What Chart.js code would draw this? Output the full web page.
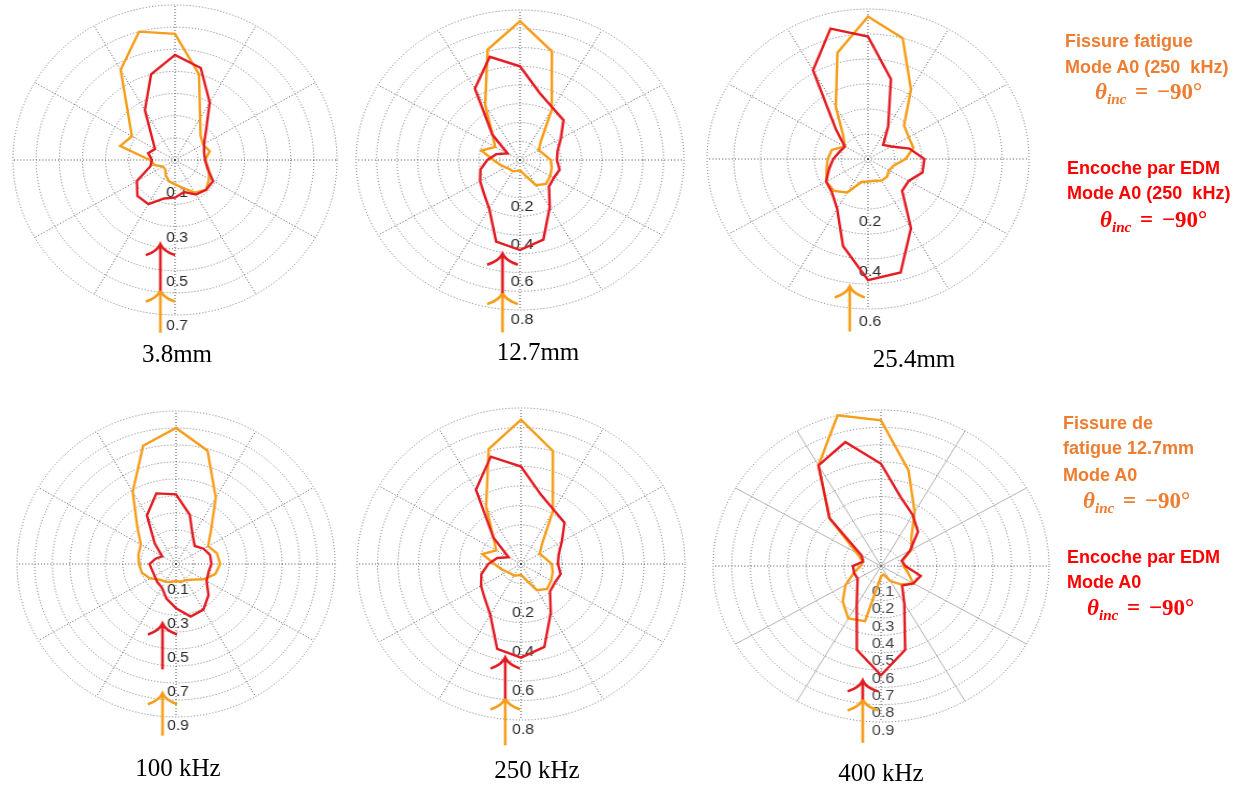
<!DOCTYPE html>
<html>
<head>
<meta charset="utf-8">
<script src="https://cdn.jsdelivr.net/npm/chart.js@4.4.1/dist/chart.umd.min.js"></script>
<style>
  html, body { margin: 0; padding: 0; background: #fff; }
  body { width: 1248px; height: 788px; position: relative; overflow: hidden; }
  canvas.plot { position: absolute; }
  .cap { position: absolute; font-family: "Liberation Serif", "Times New Roman", serif; font-size: 25px; color: #000;
         transform: translate(-50%, -50%); white-space: nowrap; line-height: 1; }
  .leg { position: absolute; font-family: "Liberation Sans", Arial, sans-serif; font-weight: bold; font-size: 18px;
         white-space: nowrap; line-height: 1; transform: translateY(-50%); }
  .th { font-family: "Liberation Serif", "Times New Roman", serif; font-weight: bold; font-size: 23px; word-spacing: 3px; }
  .th sub { font-size: 0.66em; vertical-align: -0.3em; word-spacing: 0; }
  .orange { color: #ED7D31; }
  .red { color: #FF0000; }
</style>
</head>
<body>
<canvas class="plot" id="p1"></canvas>
<canvas class="plot" id="p2"></canvas>
<canvas class="plot" id="p3"></canvas>
<canvas class="plot" id="p4"></canvas>
<canvas class="plot" id="p5"></canvas>
<canvas class="plot" id="p6"></canvas>

<div class="cap" style="left:177px;top:353px">3.8mm</div>
<div class="cap" style="left:538px;top:351px">12.7mm</div>
<div class="cap" style="left:914px;top:358px">25.4mm</div>
<div class="cap" style="left:178px;top:767px">100 kHz</div>
<div class="cap" style="left:537px;top:769px">250 kHz</div>
<div class="cap" style="left:881px;top:772px">400 kHz</div>

<div class="leg orange" style="left:1065px;top:41px">Fissure fatigue</div>
<div class="leg orange" style="left:1065px;top:67px">Mode A0 (250&nbsp; kHz)</div>
<div class="leg orange th" style="left:1095px;top:93px"><i>θ</i><sub><i>inc</i></sub> = −90°</div>
<div class="leg red" style="left:1067px;top:168px">Encoche par EDM</div>
<div class="leg red" style="left:1067px;top:193px">Mode A0 (250&nbsp; kHz)</div>
<div class="leg red th" style="left:1100px;top:221px"><i>θ</i><sub><i>inc</i></sub> = −90°</div>

<div class="leg orange" style="left:1063px;top:423px">Fissure de</div>
<div class="leg orange" style="left:1063px;top:448px">fatigue 12.7mm</div>
<div class="leg orange" style="left:1063px;top:475px">Mode A0</div>
<div class="leg orange th" style="left:1083px;top:502px"><i>θ</i><sub><i>inc</i></sub> = −90°</div>
<div class="leg red" style="left:1067px;top:557px">Encoche par EDM</div>
<div class="leg red" style="left:1067px;top:582px">Mode A0</div>
<div class="leg red th" style="left:1087px;top:609px"><i>θ</i><sub><i>inc</i></sub> = −90°</div>

<script>
// Directions (degrees, counter-clockwise from +x) at which the scattered amplitude was sampled
const angles = [0, 15, 30, 45, 60, 75, 90, 105, 120, 135, 150, 165,
                180, 195, 210, 225, 240, 255, 270, 285, 300, 315, 330, 345];

// Fatigue crack vs EDM notch, A0 mode at 250 kHz, for three defect lengths
const fatigue38 = [0.13, 0.155, 0.14, 0.156, 0.217, 0.40, 0.57, 0.60, 0.47, 0.285, 0.215, 0.245,
                   0.11, 0.09, 0.06, 0.06, 0.08, 0.10, 0.11, 0.13, 0.17, 0.19, 0.17, 0.15];
const notch38   = [0.13, 0.13, 0.145, 0.19, 0.30, 0.43, 0.475, 0.40, 0.26, 0.14, 0.10, 0.12,
                   0.10, 0.11, 0.19, 0.23, 0.23, 0.18, 0.17, 0.15, 0.18, 0.19, 0.19, 0.145];

const fatigue127 = [0.15, 0.12, 0.105, 0.145, 0.31, 0.60, 0.74, 0.61, 0.34, 0.19, 0.14, 0.195,
                    0.13, 0.10, 0.08, 0.07, 0.07, 0.06, 0.055, 0.08, 0.155, 0.18, 0.17, 0.16];
const notch127   = [0.18, 0.19, 0.23, 0.30, 0.32, 0.37, 0.50, 0.57, 0.44, 0.19, 0.07, 0.12,
                    0.16, 0.20, 0.225, 0.25, 0.30, 0.45, 0.48, 0.44, 0.29, 0.20, 0.19, 0.20];

const fatigue254 = [0.14, 0.175, 0.175, 0.19, 0.32, 0.50, 0.57, 0.44, 0.24, 0.13, 0.10, 0.14,
                    0.15, 0.16, 0.18, 0.18, 0.155, 0.095, 0.09, 0.09, 0.10, 0.10, 0.09, 0.10];
const notch254   = [0.21, 0.16, 0.10, 0.08, 0.15, 0.33, 0.49, 0.54, 0.41, 0.17, 0.10, 0.11,
                    0.13, 0.15, 0.18, 0.19, 0.23, 0.36, 0.485, 0.47, 0.32, 0.18, 0.175, 0.21];

// 12.7 mm defects, A0 mode at three excitation frequencies (250 kHz shares the set above)
const fatigue100 = [0.25, 0.24, 0.21, 0.28, 0.45, 0.69, 0.80, 0.72, 0.49, 0.31, 0.23, 0.22,
                    0.21, 0.20, 0.17, 0.13, 0.12, 0.11, 0.10, 0.11, 0.11, 0.13, 0.18, 0.23];
const notch100   = [0.20, 0.20, 0.18, 0.15, 0.19, 0.30, 0.41, 0.43, 0.33, 0.17, 0.09, 0.12,
                    0.15, 0.14, 0.14, 0.15, 0.16, 0.21, 0.26, 0.32, 0.31, 0.26, 0.20, 0.19];

const fatigue400 = [0.12, 0.12, 0.19, 0.23, 0.36, 0.57, 0.84, 0.90, 0.67, 0.39, 0.15, 0.10,
                    0.11, 0.15, 0.22, 0.29, 0.35, 0.33, 0.06, 0.05, 0.10, 0.15, 0.20, 0.15];
const notch400   = [0.13, 0.115, 0.18, 0.28, 0.34, 0.41, 0.59, 0.74, 0.67, 0.39, 0.12, 0.10,
                    0.15, 0.15, 0.145, 0.18, 0.26, 0.50, 0.63, 0.50, 0.25, 0.16, 0.20, 0.22];

// Radial tick labels printed along the lower axis of each plot
const ticks38  = [0.1, 0.3, 0.5, 0.7];
const ticks127 = [0.2, 0.4, 0.6, 0.8];
const ticks254 = [0.2, 0.4, 0.6];
const ticks100 = [0.1, 0.3, 0.5, 0.7, 0.9];
const ticks250 = [0.2, 0.4, 0.6, 0.8];
const ticks400 = [0.1, 0.2, 0.3, 0.4, 0.5, 0.6, 0.7, 0.8, 0.9];

const ORANGE = '#F69D1A';
const RED = '#E31B22';
const PAD = 40;
const N = angles.length;

// Chart.js walks the radar clockwise from startAngle; the arrays above run counter-clockwise.
const clockwise = values => angles.map((_, i) => values[(N - i) % N]);
const radarLabels = angles.map((_, i) => angles[(N - i) % N] + '°');

// Tick labels under the curves and the incident-wave arrows on top of them
const decor = {
  id: 'decor',
  beforeDatasetsDraw(chart, args, o) {
    const s = chart.scales.r, ctx = chart.ctx;
    const half = s.getDistanceFromCenterForValue(0.05);
    ctx.save();
    ctx.font = '15px "Liberation Sans", Arial, sans-serif';
    ctx.fillStyle = o.tickColor;
    ctx.textAlign = 'center';
    ctx.textBaseline = 'middle';
    o.ticks.forEach(v => {
      ctx.fillText(v.toFixed(1), s.xCenter + 2, s.yCenter + s.getDistanceFromCenterForValue(v) + half);
    });
    ctx.restore();
  },
  afterDatasetsDraw(chart, args, o) {
    const s = chart.scales.r, ctx = chart.ctx;
    const x = s.xCenter + o.dx;
    ctx.save();
    ctx.lineWidth = 2.6;
    o.arrows.forEach(a => {
      const yTip = s.yCenter + s.getDistanceFromCenterForValue(a.tip);
      const yTail = s.yCenter + s.getDistanceFromCenterForValue(a.tail);
      ctx.strokeStyle = a.color;
      ctx.beginPath();
      ctx.moveTo(x, yTail);
      ctx.lineTo(x, yTip);
      ctx.stroke();
      ctx.beginPath();
      ctx.moveTo(x - 14, yTip + 11);
      ctx.quadraticCurveTo(x - 3, yTip + 7, x, yTip);
      ctx.quadraticCurveTo(x + 3, yTip + 7, x + 14, yTip + 11);
      ctx.stroke();
    });
    ctx.restore();
  }
};

const plots = [
  { id: 'p1', cx: 175, cy: 160, rx: 162, ry: 155, max: 0.7, ticks: ticks38, orange: fatigue38, red: notch38, dx: -14,
    arrows: [{ color: ORANGE, tip: 0.59, tail: 0.78 }, { color: RED, tip: 0.38, tail: 0.59 }] },
  { id: 'p2', cx: 520, cy: 160, rx: 164, ry: 150, max: 0.8, ticks: ticks127, orange: fatigue127, red: notch127, dx: -16,
    arrows: [{ color: ORANGE, tip: 0.71, tail: 0.92 }, { color: RED, tip: 0.50, tail: 0.71 }] },
  { id: 'p3', cx: 868, cy: 159, rx: 161, ry: 150, max: 0.6, ticks: ticks254, orange: fatigue254, red: notch254, dx: -17,
    arrows: [{ color: ORANGE, tip: 0.51, tail: 0.69 }] },
  { id: 'p4', cx: 176, cy: 564, rx: 159, ry: 153, max: 0.9, ticks: ticks100, orange: fatigue100, red: notch100, dx: -13,
    arrows: [{ color: ORANGE, tip: 0.76, tail: 1.01 }, { color: RED, tip: 0.35, tail: 0.62 }] },
  { id: 'p5', cx: 521, cy: 564, rx: 164, ry: 156, max: 0.8, ticks: ticks250, orange: fatigue127, red: notch127, dx: -15,
    arrows: [{ color: ORANGE, tip: 0.69, tail: 0.93 }, { color: RED, tip: 0.48, tail: 0.69 }] },
  { id: 'p6', cx: 881, cy: 566, rx: 168, ry: 156, max: 0.9, ticks: ticks400, orange: fatigue400, red: notch400, dx: -17,
    arrows: [{ color: ORANGE, tip: 0.77, tail: 1.02 }, { color: RED, tip: 0.66, tail: 0.77 }], solidSpokes: true }
];

plots.forEach(p => {
  const canvas = document.getElementById(p.id);
  const size = 2 * p.ry + 2 * PAD;
  canvas.width = size;
  canvas.height = size;
  canvas.style.width = size + 'px';
  canvas.style.height = size + 'px';

  const spokeColor = c => {
    if (c.index % 2) return 'transparent';
    if (p.solidSpokes && c.index % 6) return 'rgba(160,160,160,0.8)';
    return 'rgba(70,70,70,0.9)';
  };
  const spokeDash = c => (p.solidSpokes && c.index % 6) ? [] : [1, 2];

  const chart = new Chart(canvas, {
    type: 'radar',
    data: {
      labels: radarLabels,
      datasets: [
        { label: 'Encoche par EDM', data: clockwise(p.red), borderColor: RED, borderWidth: 2.4,
          pointRadius: 0, fill: false, tension: 0 },
        { label: 'Fissure fatigue', data: clockwise(p.orange), borderColor: ORANGE, borderWidth: 2.4,
          pointRadius: 0, fill: false, tension: 0 }
      ]
    },
    options: {
      responsive: false,
      animation: false,
      events: [],
      layout: { padding: PAD },
      plugins: {
        legend: { display: false },
        tooltip: { enabled: false },
        decor: { ticks: p.ticks, arrows: p.arrows, dx: p.dx, tickColor: p.solidSpokes ? '#444' : '#2a2a2a' }
      },
      scales: {
        r: {
          min: 0,
          max: p.max,
          startAngle: 90,
          ticks: { display: false, stepSize: 0.1 },
          pointLabels: { display: false },
          grid: { circular: true, color: 'rgba(95,95,95,0.85)', lineWidth: 1 },
          border: { dash: [1, 2] },
          angleLines: { color: spokeColor, lineWidth: 1, borderDash: spokeDash }
        }
      }
    },
    plugins: [decor]
  });

  const s = chart.scales.r;
  canvas.style.left = (p.cx - s.xCenter) + 'px';
  canvas.style.top = (p.cy - s.yCenter) + 'px';
  canvas.style.transformOrigin = s.xCenter + 'px ' + s.yCenter + 'px';
  canvas.style.transform = 'scaleX(' + (p.rx / p.ry).toFixed(4) + ')';
});
</script>
</body>
</html>
